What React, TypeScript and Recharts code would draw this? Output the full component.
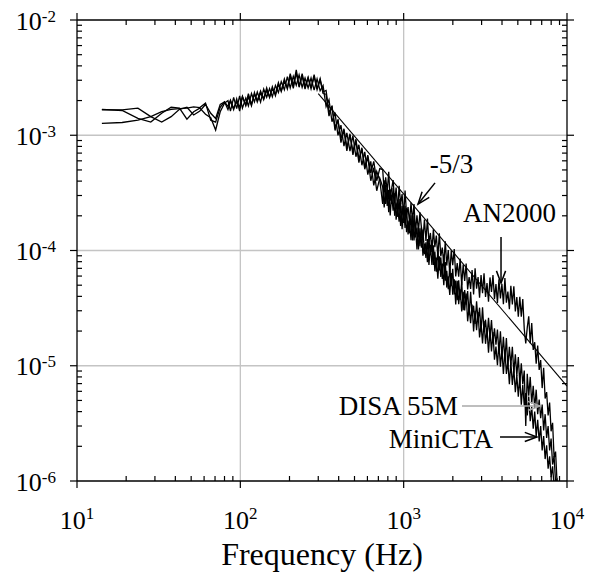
import React from 'react';
import { LineChart, Line, XAxis, YAxis, CartesianGrid, ReferenceLine, ReferenceDot } from 'recharts';

const FONT = '"Liberation Serif", "Times New Roman", serif';

// frequency bins (Hz)
const freq = [
  14.2, 18.9, 23.6, 28.3, 33, 37.7, 42.4, 47.1, 51.8, 56.5, 61.2, 65.9, 70.6, 75.3, 80,
  84, 87, 91, 95, 99, 103, 108, 112, 117, 122, 127, 133, 139, 145, 151, 157, 164, 171, 178, 186,
  194, 202, 211, 220, 229, 239, 249, 260, 271, 283, 295, 308, 321, 335, 349, 364, 380, 396, 413, 431,
  449, 469, 489, 510, 532, 555, 578, 603, 629, 656, 684, 714,
  744, 760, 776, 793, 810, 827, 844, 862, 881, 899,
  918, 938, 958, 978, 999, 1020, 1042, 1064, 1086, 1109,
  1133, 1157, 1181, 1206, 1232, 1258, 1285, 1312, 1340, 1369,
  1398, 1428, 1458, 1489, 1520, 1552, 1585, 1619, 1653, 1688,
  1724, 1761, 1798, 1836, 1875, 1915, 1956, 1997, 2040, 2083,
  2127, 2172, 2218, 2266, 2314, 2363, 2413, 2464, 2516, 2570,
  2624, 2680, 2737, 2795, 2855, 2915, 2977, 3040, 3105, 3171,
  3238, 3307, 3377, 3449, 3522, 3597, 3673, 3751, 3831, 3912,
  3995, 4080, 4167, 4255, 4345, 4438, 4532, 4628, 4726, 4827,
  4929, 5034, 5141, 5250, 5361, 5475, 5591, 5710, 5831, 5955,
  6082, 6211, 6343, 6477, 6615, 6756, 6899, 7046, 7195, 7348,
  7504, 7664, 7826, 7992, 8162, 8335, 8512, 8692, 8877,
];

// spectra, in units of 1e-6
const miniCta = [
  1660, 1660, 1720, 1450, 1300, 1450, 1680, 1750, 1500, 1620, 1850, 1550, 1400, 1850, 1950,
  1670, 1980, 1670, 2070, 1620, 2150, 1840, 2300, 1850, 2270, 2000, 2420, 2030, 2440, 2160, 2640, 2200, 2750, 2440, 3080,
  2520, 3250, 2550, 3480, 2610, 3250, 2510, 3140, 2520, 3220, 2480, 3020, 2300,
  2270, 1467, 1806, 1100, 1375, 862, 1107, 733, 1031, 676, 897, 579, 779, 507, 652, 403, 524, 330, 425,
  356, 236, 373, 244, 336, 201, 305, 221, 314, 185,
  241, 178, 259, 153, 233, 157, 233, 138, 179, 123,
  194, 122, 164, 102, 158, 109, 159, 90, 115, 86,
  126, 75, 112, 75, 111, 66, 87, 57, 89, 59,
  77, 50, 79.5, 47.7, 59.6, 41.2, 63.8, 41.4, 56.4, 34.1,
  54.5, 34.2, 46, 29.6, 43.8, 30.2, 42.4, 24.3, 32.4, 23.4,
  33.9, 19.8, 30, 20.3, 29.2, 17.6, 23.1, 15.6, 24.4, 15.5,
  21, 13, 20.1, 13.3, 19.6, 11.3, 14.7, 10.1, 15.6, 9.8,
  13.8, 8.5, 13.5, 8.5, 10.9, 6.9, 10.7, 6.8, 9.5, 5.9,
  8.3, 5.4, 8.0, 4.6, 6.8, 4.5, 5.8, 3.7, 5.4, 3.3,
  4.4, 2.84, 4.0, 2.44, 3.4, 2.2, 3.0, 1.84, 2.45, 1.55,
  2.04, 1.28, 1.64, 1.08, 1.34, 0.9, 1.03, 0.69, 0.6,
];

const disa55m = [
  1680, 1640, 1400, 1300, 1550, 1750, 1720, 1380, 1600, 1720, 1520, 1420, 1110, 1600, 1900,
  2000, 1620, 2130, 1700, 2190, 1720, 2100, 1800, 2300, 1950, 2370, 1940, 2520, 2140, 2540, 2160, 2700, 2350, 2920, 2480,
  3220, 2570, 3250, 2710, 3340, 2610, 3140, 2570, 3140, 2460, 3080, 2430, 2700,
  1775, 2036, 1310, 1573, 997, 1223, 803, 1049, 727, 995, 651, 827, 549, 719, 456, 594, 367, 486, 407,
  254, 406, 253, 344, 215, 340, 253, 348, 200, 261,
  196, 279, 163, 243, 173, 244, 144, 182, 141, 202,
  122, 201, 130, 158, 102, 156, 106, 152, 93, 118,
  79, 125, 91, 124, 75, 98, 65.5, 101, 67, 87.4,
  56.6, 92.4, 54.8, 66.5, 46.2, 72.1, 49, 69.4, 41.6, 54.9,
  37, 55.2, 37.2, 53.9, 30.4, 45.3, 33.8, 44.4, 27.5, 43.9,
  27, 33.2, 23.1, 36.3, 24.1, 31.9, 19.7, 32.2, 19.6, 25.1,
  17.7, 26, 17.7, 24.9, 15.6, 21.1, 15.2, 20.6, 13, 19.9,
  11.8, 17.8, 11.4, 17.4, 9.8, 14.6, 10.1, 14.6, 8.6, 12.6,
  8.2, 11.9, 7.0, 10.5, 6.9, 9.1, 3.0, 8.5, 5.5, 8.0,
  4.7, 6.7, 4.3, 6.2, 3.8, 5.1, 3.5, 4.6, 2.75, 3.8,
  2.36, 3.0, 1.84, 2.33, 1.39, 1.64, 0.98, 1.03, 0.7,
];

const an2000 = [
  1270, 1290, 1350, 1450, 1600, 1680, 1700, 1720, 1760, 1740, 1900, 1350, 1300, 1750, 1950,
  1780, 2020, 1710, 1940, 1760, 2180, 1800, 2160, 1800, 2350, 1940, 2310, 2090, 2580, 2120, 2520, 2280, 2860, 2390, 2920,
  2580, 3420, 2700, 3690, 2670, 3420, 2650, 3190, 2580, 3360, 2530, 3100, 2380,
  2447, 1575, 1753, 1181, 1335, 938, 1139, 788, 1002, 726, 923, 621, 757, 525, 671, 472, 594, 403, 513,
  504, 322, 432, 325, 482, 270, 345, 409, 261, 351,
  223, 364, 253, 309, 197, 331, 203, 238, 174, 259,
  179, 253, 144, 202, 148, 214, 157, 123, 186, 121,
  189, 117, 142, 97, 153, 107, 135, 88, 141, 89,
  106, 76, 120, 74, 101, 63, 100, 74.5, 103, 59.6,
  77.8, 59.2, 85, 50, 75.6, 54.3, 77.2, 46, 58.8, 46.5,
  67.8, 41.6, 70, 46.7, 58.8, 39, 61.1, 42.7, 63.4, 39.6,
  52.2, 36, 58.4, 43.7, 61.3, 37.9, 51.2, 35.1, 56.3, 38.3,
  51.3, 34.2, 57.6, 35.3, 44, 31, 49.3, 34.1, 48.9, 29.6,
  39.5, 26.6, 39.6, 26.6, 38, 20.8, 15.6, 21.4, 26.8, 15.7,
  23.5, 13.7, 16, 10.4, 15, 9.2, 11.2, 6.4, 9.6, 5.2,
  5.9, 3.7, 4.8, 2.7, 3.2, 1.6, 1.8, 0.97, 0.8,
];

// -5/3 reference slope
const slopeFreq = [300, 10000];
const slopeValue = [2.3e-3, 6.67e-6];

const xTicks = [
  10, 20, 30, 40, 50, 60, 70, 80, 90,
  100, 200, 300, 400, 500, 600, 700, 800, 900,
  1000, 2000, 3000, 4000, 5000, 6000, 7000, 8000, 9000, 10000,
];
const yTicks = [
  1e-6, 2e-6, 3e-6, 4e-6, 5e-6, 6e-6, 7e-6, 8e-6, 9e-6,
  1e-5, 2e-5, 3e-5, 4e-5, 5e-5, 6e-5, 7e-5, 8e-5, 9e-5,
  1e-4, 2e-4, 3e-4, 4e-4, 5e-4, 6e-4, 7e-4, 8e-4, 9e-4,
  1e-3, 2e-3, 3e-3, 4e-3, 5e-3, 6e-3, 7e-3, 8e-3, 9e-3, 1e-2,
];

const spectra = freq.map((f, i) => ({
  f,
  mini: miniCta[i] * 1e-6,
  disa: disa55m[i] * 1e-6,
  an: an2000[i] * 1e-6,
}));
const slope = slopeFreq.map((f, i) => ({ f, v: slopeValue[i] }));

const decade = (v: number) => {
  const e = Math.log10(v);
  const r = Math.round(e);
  return Math.abs(e - r) < 1e-6 ? r : null;
};

const BottomTick = ({ x, y, payload }: any) => {
  const e = decade(payload.value);
  if (e === null) return <line x1={x} x2={x} y1={y} y2={y - 5} stroke="#000" strokeWidth={1.2} />;
  return (
    <g>
      <line x1={x} x2={x} y1={y} y2={y + 7} stroke="#000" strokeWidth={1.2} />
      <text x={x} y={y + 48} textAnchor="middle" fontFamily={FONT} fontSize={26} fill="#000">
        10<tspan dy={-10} fontSize={17}>{e}</tspan>
      </text>
    </g>
  );
};

const TopTick = ({ x, y, payload }: any) => {
  const e = decade(payload.value);
  return e === null
    ? <line x1={x} x2={x} y1={y} y2={y + 5} stroke="#000" strokeWidth={1.2} />
    : <line x1={x} x2={x} y1={y} y2={y - 7} stroke="#000" strokeWidth={1.2} />;
};

const LeftTick = ({ x, y, payload }: any) => {
  const e = decade(payload.value);
  if (e === null) return <line x1={x} x2={x + 5} y1={y} y2={y} stroke="#000" strokeWidth={1.2} />;
  return (
    <g>
      <line x1={x - 7} x2={x} y1={y} y2={y} stroke="#000" strokeWidth={1.2} />
      <text x={x - 21} y={y + 9.5} textAnchor="end" fontFamily={FONT} fontSize={26} fill="#000">
        10<tspan dy={-8} fontSize={17}>{e}</tspan>
      </text>
    </g>
  );
};

const RightTick = ({ x, y, payload }: any) => {
  const e = decade(payload.value);
  return e === null
    ? <line x1={x - 5} x2={x} y1={y} y2={y} stroke="#000" strokeWidth={1.2} />
    : <line x1={x} x2={x + 7} y1={y} y2={y} stroke="#000" strokeWidth={1.2} />;
};

const Arrow = ({ x1, y1, x2, y2, color }: any) => {
  const a = Math.atan2(y2 - y1, x2 - x1);
  const h = 13;
  const w = 0.36;
  const p1 = `${x2 - h * Math.cos(a - w)},${y2 - h * Math.sin(a - w)}`;
  const p2 = `${x2 - h * Math.cos(a + w)},${y2 - h * Math.sin(a + w)}`;
  return (
    <g stroke={color} strokeWidth={1.5} fill="none">
      <line x1={x1} y1={y1} x2={x2} y2={y2} />
      <polyline points={`${p1} ${x2},${y2} ${p2}`} />
    </g>
  );
};

const note = (text: string, anchor: string) => (p: any) => (
  <text x={p.cx} y={p.cy} textAnchor={anchor} fontFamily={FONT} fontSize={27} fill="#000">
    {text}
  </text>
);

const axisLine = { stroke: '#000', strokeWidth: 1.3 };

export default function App() {
  return (
    <div style={{ position: 'absolute', left: 0, top: 0, background: '#fff' }}>
      <LineChart
        width={592}
        height={578}
        data={spectra}
        margin={{ top: 19, right: 24, bottom: 0, left: 0 }}
        style={{ fontFamily: FONT }}
      >
        <CartesianGrid
          horizontalValues={[1e-3, 1e-4, 1e-5]}
          verticalValues={[100, 1000]}
          stroke="#c4c4c4"
          strokeWidth={1.3}
        />
        <XAxis
          dataKey="f"
          type="number"
          scale="log"
          domain={[10, 10000]}
          allowDataOverflow
          ticks={xTicks}
          interval={0}
          tickLine={false}
          tickSize={0}
          tickMargin={0}
          tick={<BottomTick />}
          axisLine={axisLine}
          height={97}
          label={{ value: 'Frequency (Hz)', position: 'insideBottom', offset: 13, fontSize: 32, fill: '#000', fontFamily: FONT }}
        />
        <YAxis
          type="number"
          scale="log"
          domain={[1e-6, 1e-2]}
          allowDataOverflow
          ticks={yTicks}
          interval={0}
          tickLine={false}
          tickSize={0}
          tickMargin={0}
          tick={<LeftTick />}
          axisLine={axisLine}
          width={77}
        />
        <XAxis
          xAxisId="top"
          orientation="top"
          dataKey="f"
          type="number"
          scale="log"
          domain={[10, 10000]}
          allowDataOverflow
          ticks={xTicks}
          interval={0}
          tickLine={false}
          tickSize={0}
          tickMargin={0}
          tick={<TopTick />}
          axisLine={axisLine}
          height={1}
        />
        <YAxis
          yAxisId="right"
          orientation="right"
          type="number"
          scale="log"
          domain={[1e-6, 1e-2]}
          allowDataOverflow
          ticks={yTicks}
          interval={0}
          tickLine={false}
          tickSize={0}
          tickMargin={0}
          tick={<RightTick />}
          axisLine={axisLine}
          width={1}
        />
        <Line dataKey="mini" stroke="#000" strokeWidth={1.3} dot={false} isAnimationActive={false} />
        <Line dataKey="disa" stroke="#000" strokeWidth={1.3} dot={false} isAnimationActive={false} />
        <Line dataKey="an" stroke="#000" strokeWidth={1.3} dot={false} isAnimationActive={false} />
        <Line
          data={slope}
          dataKey="v"
          xAxisId="top"
          yAxisId="right"
          stroke="#000"
          strokeWidth={1.1}
          dot={false}
          isAnimationActive={false}
        />
        <ReferenceDot x={1963} y={4.7e-4} shape={note('-5/3', 'middle')} />
        <ReferenceLine segment={[{ x: 1556, y: 3.86e-4 }, { x: 1225, y: 2.53e-4 }]} shape={(p: any) => <Arrow {...p} color="#000" />} />
        <ReferenceDot x={4446} y={1.77e-4} shape={note('AN2000', 'middle')} />
        <ReferenceLine segment={[{ x: 3945, y: 1.31e-4 }, { x: 3945, y: 5.22e-5 }]} shape={(p: any) => <Arrow {...p} color="#000" />} />
        <ReferenceDot x={2153} y={3.74e-6} shape={note('DISA 55M', 'end')} />
        <ReferenceLine segment={[{ x: 2275, y: 4.48e-6 }, { x: 6840, y: 4.48e-6 }]} shape={(p: any) => <Arrow {...p} color="#a8a8a8" />} />
        <ReferenceDot x={3524} y={1.93e-6} shape={note('MiniCTA', 'end')} />
        <ReferenceLine segment={[{ x: 3890, y: 2.41e-6 }, { x: 6546, y: 2.41e-6 }]} shape={(p: any) => <Arrow {...p} color="#000" />} />
      </LineChart>
    </div>
  );
}
